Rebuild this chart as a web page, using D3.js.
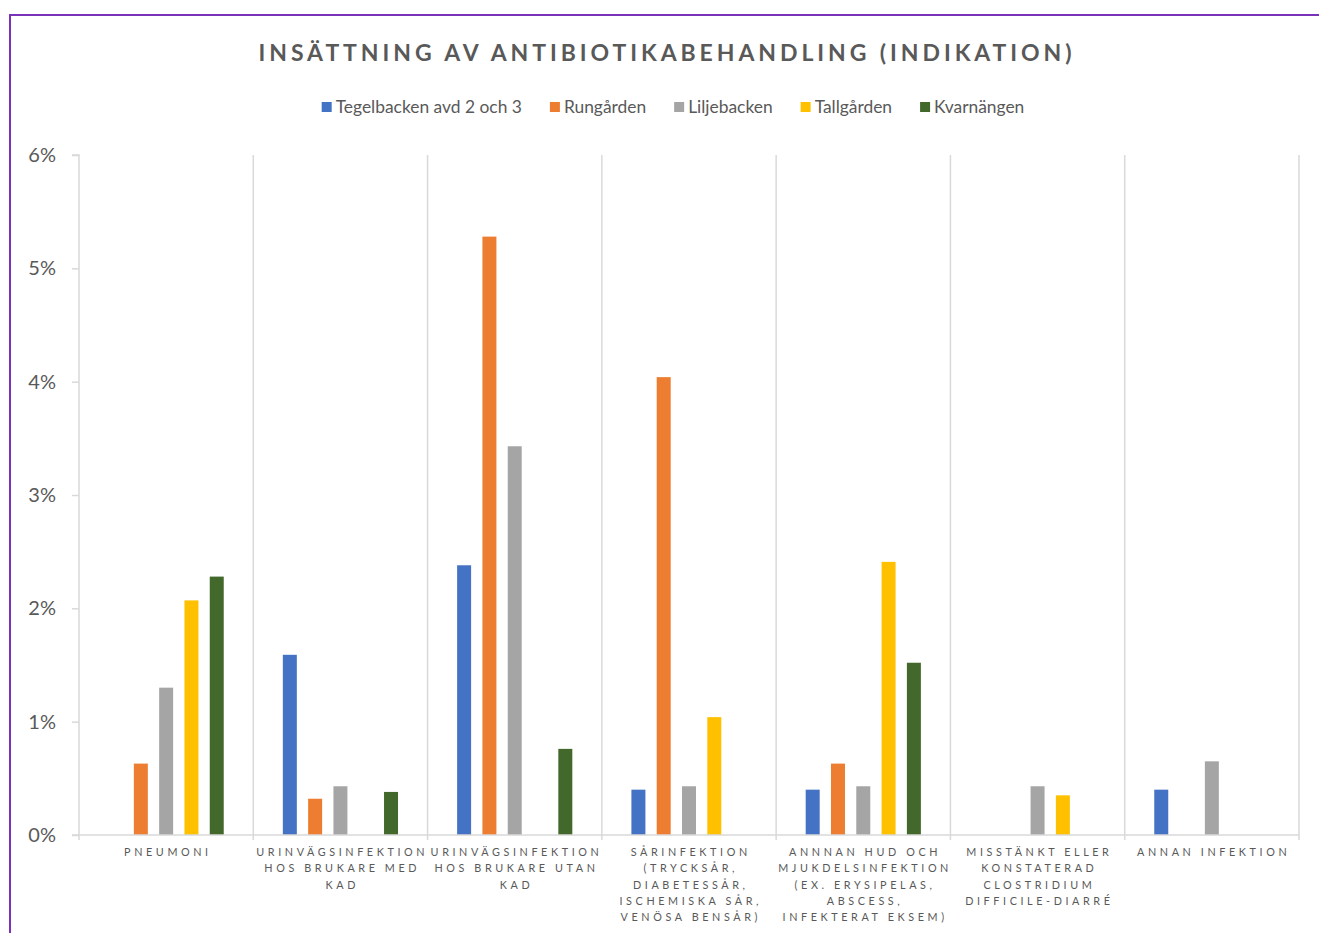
<!DOCTYPE html>
<html>
<head>
<meta charset="utf-8">
<script src="https://cdn.jsdelivr.net/npm/d3@7"></script>
<style>
  html, body { margin: 0; padding: 0; background: #fff; }
  svg { display: block; }
  text { font-family: Lato, "Open Sans", sans-serif; fill: #595959; }
</style>
</head>
<body>
<svg id="chart" width="1319" height="933"></svg>
<script>
// Category labels, one entry per wrapped line
const categories = [
  ["PNEUMONI"],
  ["URINVÄGSINFEKTION", "HOS BRUKARE MED", "KAD"],
  ["URINVÄGSINFEKTION", "HOS BRUKARE UTAN", "KAD"],
  ["SÅRINFEKTION", "(TRYCKSÅR,", "DIABETESSÅR,", "ISCHEMISKA SÅR,", "VENÖSA BENSÅR)"],
  ["ANNNAN HUD OCH", "MJUKDELSINFEKTION", "(EX. ERYSIPELAS,", "ABSCESS,", "INFEKTERAT EKSEM)"],
  ["MISSTÄNKT ELLER", "KONSTATERAD", "CLOSTRIDIUM", "DIFFICILE-DIARRÉ"],
  ["ANNAN INFEKTION"]
];

const seriesNames = ["Tegelbacken avd 2 och 3", "Rungården", "Liljebacken", "Tallgården", "Kvarnängen"];
const seriesColors = ["#4472C4", "#ED7D31", "#A5A5A5", "#FFC000", "#43682B"];

// Share of residents (%) per indication
const tegelbacken = [0, 1.59, 2.38, 0.40, 0.40, 0, 0.40];
const rungarden   = [0.63, 0.32, 5.28, 4.04, 0.63, 0, 0];
const liljebacken = [1.30, 0.43, 3.43, 0.43, 0.43, 0.43, 0.65];
const tallgarden  = [2.07, 0, 0, 1.04, 2.41, 0.35, 0];
const kvarnangen  = [2.28, 0.38, 0.76, 0, 1.52, 0, 0];

const yTicks = [0, 1, 2, 3, 4, 5, 6];
const title = "INSÄTTNING AV ANTIBIOTIKABEHANDLING (INDIKATION)";

const seriesValues = [tegelbacken, rungarden, liljebacken, tallgarden, kvarnangen];

const svg = d3.select("#chart");

// outer frame
svg.append("rect")
  .attr("x", 10).attr("y", 15)
  .attr("width", 1340).attr("height", 960)
  .attr("fill", "none")
  .attr("stroke", "#7A32B8")
  .attr("stroke-width", 2);

const plot = { left: 79, right: 1299, top: 155, bottom: 835 };

const x0 = d3.scaleBand()
  .domain(d3.range(categories.length))
  .range([plot.left, plot.right])
  .padding(0);

const x1 = d3.scaleBand()
  .domain(d3.range(seriesNames.length))
  .range([0, x0.bandwidth()])
  .paddingInner(0.447)
  .paddingOuter(1.168);

const y = d3.scaleLinear().domain([0, 6]).range([plot.bottom, plot.top]);

// title
svg.append("text")
  .attr("x", 667).attr("y", 61)
  .attr("text-anchor", "middle")
  .style("font-size", "23px")
  .style("font-weight", "bold")
  .style("letter-spacing", "3.93px")
  .text(title);

// category separators
const gridColor = "#D9D9D9";
const seps = d3.range(categories.length + 1).map(i => i < categories.length ? x0(i) : plot.right);
svg.append("g").selectAll("line").data(seps.slice(1)).join("line")
  .attr("x1", d => d).attr("x2", d => d)
  .attr("y1", plot.top).attr("y2", plot.bottom + 5)
  .attr("stroke", gridColor).attr("stroke-width", 1.5);

// y axis
const yAxis = d3.axisLeft(y)
  .tickValues(yTicks)
  .tickFormat(d => d + "%")
  .tickSize(7)
  .tickPadding(16);
const gy = svg.append("g").attr("transform", `translate(${plot.left},0)`).call(yAxis);
gy.select(".domain").attr("stroke", gridColor).attr("stroke-width", 1.5)
  .attr("d", `M-7,${plot.top}H0V${plot.bottom + 5}`);
gy.selectAll(".tick line").attr("stroke", gridColor).attr("stroke-width", 1.5);
gy.selectAll(".tick text")
  .style("font-family", "Lato, sans-serif")
  .style("font-size", "20px")
  .attr("fill", "#595959");

// bars
const groups = svg.append("g").selectAll("g").data(categories).join("g")
  .attr("transform", (d, i) => `translate(${x0(i)},0)`);
groups.selectAll("rect")
  .data((d, i) => seriesValues.map((vals, s) => ({ s, v: vals[i] })))
  .join("rect")
  .attr("x", d => x1(d.s))
  .attr("width", x1.bandwidth())
  .attr("y", d => y(d.v))
  .attr("height", d => y(0) - y(d.v))
  .attr("fill", d => seriesColors[d.s]);

// x axis baseline
svg.append("line")
  .attr("x1", plot.left - 7).attr("x2", plot.right)
  .attr("y1", plot.bottom).attr("y2", plot.bottom)
  .attr("stroke", gridColor).attr("stroke-width", 1.5);

// category labels
const labels = svg.append("g").selectAll("text").data(categories).join("text")
  .attr("text-anchor", "middle")
  .style("font-size", "10.8px")
  .style("letter-spacing", "3.6px");
labels.each(function(lines, i) {
  const cx = x0(i) + x0.bandwidth() / 2 + 1.8;
  d3.select(this).selectAll("tspan").data(lines).join("tspan")
    .attr("x", cx)
    .attr("y", (d, k) => 856 + k * 16.3)
    .text(d => d);
});

// legend
const legend = svg.append("g");
const items = legend.selectAll("g").data(seriesNames).join("g");
items.append("rect").attr("width", 10).attr("height", 10).attr("y", -5)
  .attr("fill", (d, i) => seriesColors[i]);
items.append("text").attr("x", 14).attr("y", 0).attr("dy", "0.35em")
  .style("font-size", "17.4px")
  .text(d => d);
let cursor = 0;
const positions = [];
items.each(function() {
  const w = this.querySelector("text").getComputedTextLength();
  positions.push(cursor);
  cursor += 14 + w + 28;
});
const total = cursor - 28;
const startX = 673 - total / 2;
items.attr("transform", (d, i) => `translate(${startX + positions[i]},107)`);
</script>
</body>
</html>
